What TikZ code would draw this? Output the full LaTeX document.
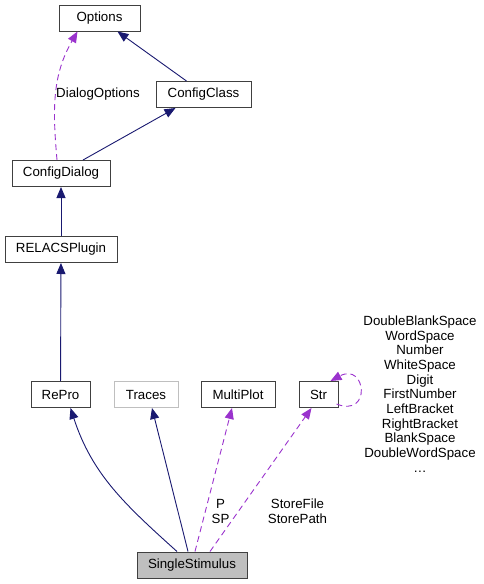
\documentclass[tikz,border=0pt]{standalone}
\usepackage{fontspec}
\setmainfont{Liberation Sans}
\usepackage{tikz}
\usetikzlibrary{arrows.meta,positioning,calc}
\definecolor{inhblue}{HTML}{191970}
\definecolor{usepurple}{HTML}{9A32CD}
\tikzstyle{cls} = [rectangle, minimum height=26, inner sep=0pt, text centered, draw=black!75, line width=1pt, fill=white]
\tikzstyle{inherit} = [draw=inhblue, line width=0.9pt, -{Triangle[length=11pt,width=9pt]}]
\tikzstyle{usage} = [draw=usepurple, line width=0.9pt, dash pattern=on 6pt off 4pt, -{Triangle[length=11pt,width=9pt]}]
\tikzstyle{lbl} = [align=center, inner sep=0pt]

\begin{document}
\begin{tikzpicture}[x=1pt, y=-1pt, every node/.style={font=\fontsize{13.3}{14.7}\selectfont}]
\useasboundingbox (0,0) rectangle (483,584);

% Classes
\node (options) [cls, minimum width=81] at (99.5,18) {Options};
\node (cfgclass) [cls, minimum width=95] at (203.5,94.5) {ConfigClass};
\node (cfgdialog) [cls, minimum width=98] at (61,173.5) {ConfigDialog};
\node (plugin) [cls, minimum width=112] at (61,249.5) {RELACSPlugin};
\node (repro) [cls, minimum width=59] at (60.5,394.5) {RePro};
\node (traces) [cls, minimum width=64, draw=black!25] at (146,394.5) {Traces};
\node (multiplot) [cls, minimum width=74] at (238,394.5) {MultiPlot};
\node (str) [cls, minimum width=39] at (318.5,394.5) {Str};
\node (stim) [cls, minimum width=110, fill=black!25] at (192,565) {SingleStimulus};

% Relations
\draw [inherit] ([xshift=-17]cfgclass.north) -- ([xshift=18]options.south);
\draw [usage] ([xshift=-4]cfgdialog.north) to[out=95,in=240] ([xshift=-22]options.south);
\draw [inherit] ([xshift=22]cfgdialog.north) -- ([xshift=-28]cfgclass.south);
\draw [inherit] (plugin) -- (cfgdialog);
\draw [inherit] (repro) -- (plugin);
\draw [inherit] ([xshift=-15]stim.north) to[out=138,in=-72] ([xshift=10]repro.south);
\draw [inherit] ([xshift=-4]stim.north) -- ([xshift=6]traces.south);
\draw [usage] ([xshift=3]stim.north) -- ([xshift=-6]multiplot.south);
\draw [usage] ([xshift=18]stim.north) -- ([xshift=-7]str.south);
\draw [usage] ([xshift=-2,yshift=4]str.south east) .. controls (372,418) and (366,362) .. ([xshift=-8]str.north east);

% Labels
\node (lbldlg) [lbl] at (98,94) {DialogOptions};
\node (lblp) [lbl] at (220.5,511.5) {P\\SP};
\node (lblstore) [lbl] at (297.5,511.5) {StoreFile\\StorePath};
\node (lblstr) [lbl] at (420,394) {DoubleBlankSpace\\WordSpace\\Number\\WhiteSpace\\Digit\\FirstNumber\\LeftBracket\\RightBracket\\BlankSpace\\DoubleWordSpace\\\dots};

\end{tikzpicture}
\end{document}
